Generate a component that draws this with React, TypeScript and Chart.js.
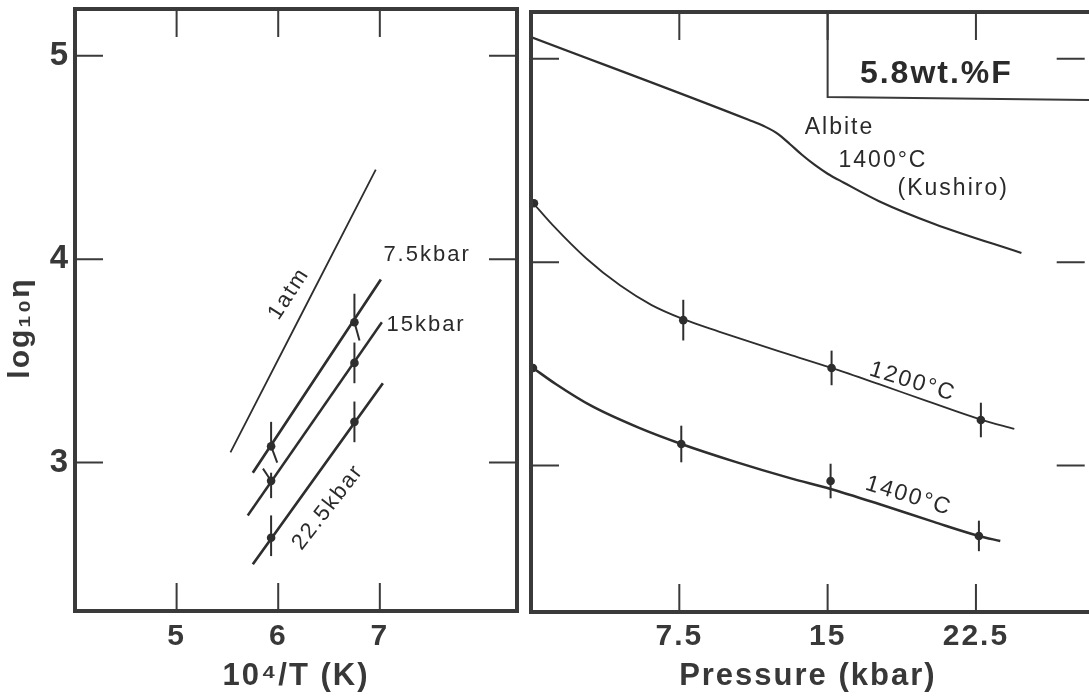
import { useEffect, useRef } from 'react';
import { Chart, registerables } from 'chart.js';

Chart.register(...registerables);

// ---------------- Left panel: log10 viscosity vs 10^4/T ----------------
const LEFT_X_TICKS = [5, 6, 7];
const LEFT_Y_TICKS = [3, 4, 5];
const INV_T_POINTS = [5.93, 6.75];
const LOGV_7_5KBAR = [3.08, 3.69];
const LOGV_15KBAR = [2.91, 3.49];
const LOGV_22_5KBAR = [2.63, 3.2];
const ERR_UP_7_5KBAR = [0.12, 0.14];
const ERR_DN_7_5KBAR = [0.02, 0.0];
const ERR_UP_15KBAR = [0.04, 0.1];
const ERR_DN_15KBAR = [0.085, 0.1];
const ERR_UP_22_5KBAR = [0.11, 0.1];
const ERR_DN_22_5KBAR = [0.09, 0.1];
// fitted lines (end points)
const FIT_1ATM_X = [5.53, 6.96];
const FIT_1ATM_Y = [3.05, 4.44];
const FIT_7_5KBAR_X = [5.75, 7.01];
const FIT_7_5KBAR_Y = [2.95, 3.9];
const FIT_15KBAR_X = [5.7, 7.02];
const FIT_15KBAR_Y = [2.74, 3.69];
const FIT_22_5KBAR_X = [5.75, 7.03];
const FIT_22_5KBAR_Y = [2.5, 3.39];
// slanted error marks
const SLANT_A_X = [6.75, 6.8];
const SLANT_A_Y = [3.69, 3.6];
const SLANT_B_X = [5.93, 5.99];
const SLANT_B_Y = [3.08, 3.0];
const SLANT_C_X = [5.85, 5.93];
const SLANT_C_Y = [2.97, 2.91];

// ---------------- Right panel: log10 viscosity vs pressure ----------------
const RIGHT_X_TICKS = [7.5, 15, 22.5];
const RIGHT_Y_TICKS = [3, 4, 5];
const ALBITE_P = [0, 11.0, 11.8, 12.5, 13.1, 13.7, 14.35, 15.0, 15.8, 17.6, 20.4, 24.8];
const ALBITE_V = [5.107, 4.7, 4.668, 4.63, 4.58, 4.528, 4.478, 4.435, 4.392, 4.3, 4.188, 4.045];
const CURVE_1200_P = [0.15, 1.1, 2.8, 4.5, 6.1, 7.7, 9.5, 11.2, 13.0, 15.2, 17.6, 20.0, 22.75, 24.44];
const CURVE_1200_V = [4.286, 4.182, 4.018, 3.886, 3.789, 3.72, 3.659, 3.604, 3.548, 3.48, 3.4, 3.318, 3.226, 3.18];
const CURVE_1400_P = [0.1, 1.25, 3.06, 5.47, 7.6, 10.34, 13.1, 15.15, 17.6, 20.37, 22.65, 23.73];
const CURVE_1400_V = [3.48, 3.401, 3.293, 3.185, 3.106, 3.018, 2.938, 2.885, 2.811, 2.723, 2.654, 2.629];
const DOTS_1200_P = [0.15, 7.7, 15.2, 22.75];
const DOTS_1200_V = [4.29, 3.715, 3.48, 3.224];
const ERR_1200 = [0, 0.1, 0.085, 0.085];
const DOTS_1400_P = [0.1, 7.6, 15.15, 22.65];
const DOTS_1400_V = [3.48, 3.106, 2.924, 2.654];
const ERR_1400 = [0, 0.09, 0.085, 0.075];

const INK = '#2e2e2e';
const TEXT = '#383838';
const FAMILY = "'Liberation Sans', Arial, Helvetica, sans-serif";

const pts = (xs: number[], ys: number[]) => xs.map((x, i) => ({ x, y: ys[i] }));

const lineDs = (xs: number[], ys: number[], w: number) => ({
  data: pts(xs, ys),
  showLine: true,
  borderColor: INK,
  borderWidth: w,
  pointRadius: 0,
  cubicInterpolationMode: 'monotone',
  fill: false,
});

const dotDs = (xs: number[], ys: number[], up: number[], dn: number[]) => ({
  data: pts(xs, ys),
  showLine: false,
  pointRadius: 4.3,
  pointBackgroundColor: INK,
  pointBorderColor: INK,
  pointBorderWidth: 0,
  errUp: up,
  errDown: dn,
});

type Label = { text: string; x: number; y: number; angle?: number; font: string };

function decorPlugin(cfg: {
  xTicks: number[];
  yTicks: number[];
  openRight: boolean;
  labels: Label[];
  box?: { x: number; y: number };
  yTitle?: string;
}) {
  return {
    id: 'decor',
    beforeDraw(chart: any) {
      chart.ctx.letterSpacing = '2px';
    },
    afterDatasetsDraw(chart: any) {
      const { ctx, scales } = chart;
      const xs = scales.x;
      const ys = scales.y;
      ctx.save();
      ctx.strokeStyle = INK;
      ctx.lineWidth = 2;
      chart.data.datasets.forEach((ds: any) => {
        if (!ds.errUp) return;
        ds.data.forEach((p: any, i: number) => {
          const up = ds.errUp[i] || 0;
          const dn = ds.errDown[i] || 0;
          if (!up && !dn) return;
          const px = xs.getPixelForValue(p.x);
          ctx.beginPath();
          ctx.moveTo(px, ys.getPixelForValue(p.y + up));
          ctx.lineTo(px, ys.getPixelForValue(p.y - dn));
          ctx.stroke();
        });
      });
      ctx.restore();
    },
    afterDraw(chart: any) {
      const { ctx, chartArea: a, scales, width } = chart;
      const xs = scales.x;
      const ys = scales.y;
      ctx.save();
      ctx.strokeStyle = '#3a3a3a';
      ctx.lineCap = 'square';
      // frame
      ctx.lineWidth = 4;
      if (cfg.openRight) {
        ctx.beginPath();
        ctx.moveTo(width, a.top);
        ctx.lineTo(a.left, a.top);
        ctx.lineTo(a.left, a.bottom);
        ctx.lineTo(width, a.bottom);
        ctx.stroke();
      } else {
        ctx.strokeRect(a.left, a.top, a.right - a.left, a.bottom - a.top);
      }
      // inner ticks on all sides
      const L = 28;
      ctx.lineWidth = 2;
      ctx.lineCap = 'butt';
      ctx.beginPath();
      cfg.xTicks.forEach((v) => {
        const px = xs.getPixelForValue(v);
        ctx.moveTo(px, a.bottom);
        ctx.lineTo(px, a.bottom - L);
        ctx.moveTo(px, a.top);
        ctx.lineTo(px, a.top + L);
      });
      cfg.yTicks.forEach((v) => {
        const py = ys.getPixelForValue(v);
        ctx.moveTo(a.left, py);
        ctx.lineTo(a.left + L, py);
        ctx.moveTo(a.right, py);
        ctx.lineTo(a.right - L, py);
      });
      ctx.stroke();
      // label box
      if (cfg.box) {
        const bx = xs.getPixelForValue(cfg.box.x);
        const by = ys.getPixelForValue(cfg.box.y);
        ctx.lineWidth = 2;
        ctx.beginPath();
        ctx.moveTo(bx, a.top);
        ctx.lineTo(bx, by);
        ctx.lineTo(width, by + 3);
        ctx.stroke();
      }
      // y-axis title (placed slightly below the plot centre, as in the figure)
      if (cfg.yTitle) {
        ctx.save();
        ctx.fillStyle = TEXT;
        ctx.font = `bold 30px ${FAMILY}`;
        ctx.textAlign = 'center';
        ctx.textBaseline = 'middle';
        ctx.translate(21, a.top + 0.53 * (a.bottom - a.top));
        ctx.rotate(-Math.PI / 2);
        ctx.fillText(cfg.yTitle, 0, 0);
        ctx.restore();
      }
      // text labels
      ctx.fillStyle = '#2a2a2a';
      ctx.textAlign = 'center';
      ctx.textBaseline = 'middle';
      cfg.labels.forEach((lb) => {
        ctx.save();
        ctx.translate(xs.getPixelForValue(lb.x), ys.getPixelForValue(lb.y));
        ctx.rotate(((lb.angle || 0) * Math.PI) / 180);
        ctx.font = lb.font;
        ctx.fillText(lb.text, 0, 0);
        ctx.restore();
      });
      ctx.restore();
    },
  };
}

const tickFont = (size: number) => ({ family: FAMILY, size, weight: 'bold' as const });

function baseScales(opts: {
  xMin: number;
  xMax: number;
  yMin: number;
  yMax: number;
  xTicks: number[];
  yTicks: number[];
  xTitle: string;
  yLabels: boolean;
  yWidth: number;
  xHeight: number;
  xPad: number;
}) {
  return {
    x: {
      type: 'linear',
      min: opts.xMin,
      max: opts.xMax,
      grid: { display: false, drawTicks: false },
      border: { display: false },
      afterBuildTicks: (s: any) => {
        s.ticks = opts.xTicks.map((v) => ({ value: v }));
      },
      afterFit: (s: any) => {
        s.height = opts.xHeight;
        s.paddingLeft = 0;
        s.paddingRight = 0;
        s.paddingTop = 0;
        s.paddingBottom = 0;
      },
      ticks: {
        autoSkip: false,
        maxRotation: 0,
        padding: opts.xPad,
        color: TEXT,
        font: tickFont(30),
        callback: (v: any) => String(v),
      },
      title: {
        display: true,
        text: opts.xTitle,
        color: TEXT,
        font: tickFont(31),
        padding: { top: 0, bottom: 5 },
      },
    },
    y: {
      type: 'linear',
      min: opts.yMin,
      max: opts.yMax,
      grid: { display: false, drawTicks: false },
      border: { display: false },
      afterBuildTicks: (s: any) => {
        s.ticks = opts.yTicks.map((v) => ({ value: v }));
      },
      afterFit: (s: any) => {
        s.width = opts.yWidth;
        s.paddingTop = 0;
        s.paddingBottom = 0;
        s.paddingLeft = 0;
        s.paddingRight = 0;
      },
      ticks: {
        display: opts.yLabels,
        padding: 5,
        color: TEXT,
        font: tickFont(33),
        callback: (v: any) => String(v),
      },
    },
  };
}

const commonOptions = {
  animation: false,
  responsive: false,
  devicePixelRatio: 1,
  plugins: { legend: { display: false }, tooltip: { enabled: false } },
  events: [],
};

function leftConfig(): any {
  const lf = `22px ${FAMILY}`;
  return {
    type: 'scatter',
    data: {
      datasets: [
        lineDs(FIT_1ATM_X, FIT_1ATM_Y, 1.8),
        lineDs(FIT_7_5KBAR_X, FIT_7_5KBAR_Y, 2.7),
        lineDs(FIT_15KBAR_X, FIT_15KBAR_Y, 2.5),
        lineDs(FIT_22_5KBAR_X, FIT_22_5KBAR_Y, 2.7),
        lineDs(SLANT_A_X, SLANT_A_Y, 2),
        lineDs(SLANT_B_X, SLANT_B_Y, 2),
        lineDs(SLANT_C_X, SLANT_C_Y, 2),
        dotDs(INV_T_POINTS, LOGV_7_5KBAR, ERR_UP_7_5KBAR, ERR_DN_7_5KBAR),
        dotDs(INV_T_POINTS, LOGV_15KBAR, ERR_UP_15KBAR, ERR_DN_15KBAR),
        dotDs(INV_T_POINTS, LOGV_22_5KBAR, ERR_UP_22_5KBAR, ERR_DN_22_5KBAR),
      ],
    },
    options: {
      ...commonOptions,
      layout: { padding: { top: 9, right: 8, left: 0, bottom: 0 } },
      scales: baseScales({
        xMin: 4,
        xMax: 8.35,
        yMin: 2.27,
        yMax: 5.23,
        xTicks: LEFT_X_TICKS,
        yTicks: LEFT_Y_TICKS,
        xTitle: '10⁴/T (K)',
        yLabels: true,
        yWidth: 75,
        xHeight: 89,
        xPad: 8,
      }),
    },
    plugins: [
      decorPlugin({
        xTicks: LEFT_X_TICKS,
        yTicks: LEFT_Y_TICKS,
        openRight: false,
        yTitle: 'log₁₀η',
        labels: [
          { text: '1atm', x: 6.106, y: 3.83, angle: -57, font: lf },
          { text: '7.5kbar', x: 7.465, y: 4.02, font: lf },
          { text: '15kbar', x: 7.455, y: 3.676, font: lf },
          { text: '22.5kbar', x: 6.49, y: 2.78, angle: -52, font: lf },
        ],
      }),
    ],
  };
}

function rightConfig(): any {
  const lf = `23px ${FAMILY}`;
  return {
    type: 'scatter',
    data: {
      datasets: [
        lineDs(ALBITE_P, ALBITE_V, 2.2),
        lineDs(CURVE_1200_P, CURVE_1200_V, 1.8),
        lineDs(CURVE_1400_P, CURVE_1400_V, 2.5),
        dotDs(DOTS_1200_P, DOTS_1200_V, ERR_1200, ERR_1200),
        dotDs(DOTS_1400_P, DOTS_1400_V, ERR_1400, ERR_1400),
      ],
    },
    options: {
      ...commonOptions,
      layout: { padding: { top: 12, right: 0, left: 0, bottom: 0 } },
      scales: baseScales({
        xMin: 0,
        xMax: 28,
        yMin: 2.28,
        yMax: 5.23,
        xTicks: RIGHT_X_TICKS,
        yTicks: RIGHT_Y_TICKS,
        xTitle: 'Pressure (kbar)',
        yLabels: false,
        yWidth: 11,
        xHeight: 88,
        xPad: 7,
      }),
    },
    plugins: [
      decorPlugin({
        xTicks: RIGHT_X_TICKS,
        yTicks: RIGHT_Y_TICKS,
        openRight: true,
        box: { x: 15.0, y: 4.812 },
        labels: [
          { text: '5.8wt.%F', x: 20.5, y: 4.925, font: `bold 32px ${FAMILY}` },
          { text: 'Albite', x: 15.6, y: 4.66, font: lf },
          { text: '1400°C', x: 17.8, y: 4.497, font: lf },
          { text: '(Kushiro)', x: 21.35, y: 4.36, font: lf },
          { text: '1200°C', x: 19.3, y: 3.411, angle: 17, font: lf },
          { text: '1400°C', x: 19.1, y: 2.85, angle: 17, font: lf },
        ],
      }),
    ],
  };
}

export default function App() {
  const leftRef = useRef<HTMLCanvasElement>(null);
  const rightRef = useRef<HTMLCanvasElement>(null);

  useEffect(() => {
    const c1 = new Chart(leftRef.current as HTMLCanvasElement, leftConfig());
    const c2 = new Chart(rightRef.current as HTMLCanvasElement, rightConfig());
    return () => {
      c1.destroy();
      c2.destroy();
    };
  }, []);

  return (
    <div
      style={{
        position: 'fixed',
        left: 0,
        top: 0,
        width: 1089,
        height: 700,
        overflow: 'hidden',
        background: '#ffffff',
      }}
    >
      <canvas
        ref={leftRef}
        width={525}
        height={700}
        style={{ position: 'absolute', left: 0, top: 0, width: 525, height: 700 }}
      />
      <canvas
        ref={rightRef}
        width={569}
        height={700}
        style={{ position: 'absolute', left: 520, top: 0, width: 569, height: 700 }}
      />
    </div>
  );
}
